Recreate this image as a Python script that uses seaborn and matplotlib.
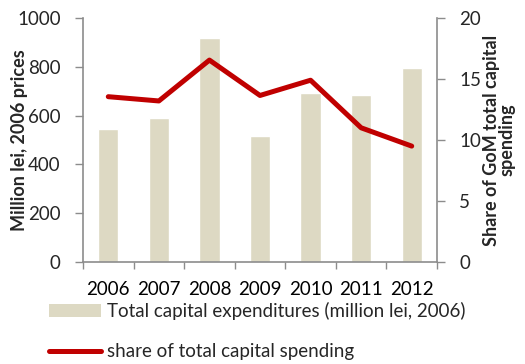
import matplotlib
matplotlib.use("Agg")
import matplotlib.pyplot as plt
from matplotlib.patches import Patch
from matplotlib.lines import Line2D
from matplotlib.ticker import FixedLocator, MultipleLocator
import seaborn as sns
import pandas as pd

years = ["2006", "2007", "2008", "2009", "2010", "2011", "2012"]
capex = [545, 590, 918, 516, 694, 686, 794]
share = [13.55, 13.2, 16.55, 13.65, 14.9, 11.0, 9.5]

bar_label = "Total capital expenditures (million lei, 2006)"
line_label = "share of total capital spending"

sns.set_theme(style="white")
plt.rcParams["font.family"] = ["Lato", "DejaVu Sans"]

bar_color = "#DDD9C3"
line_color = "#C00000"
spine_color = "#8C8C8C"
fs = 13.5

df = pd.DataFrame({"year": years, "capex": capex, "share": share})
df["pos"] = range(len(years))

fig = plt.figure(figsize=(5.25, 3.64), dpi=100)
ax = fig.add_axes([83 / 525, 1 - 262 / 364, (437 - 83) / 525, (262 - 18) / 364])

sns.barplot(data=df, x="year", y="capex", color=bar_color, width=0.4,
            saturation=1, ax=ax)
ax.set_ylim(0, 1000)
ax.set_xlim(-0.5, len(years) - 0.5)
ax.yaxis.set_major_locator(MultipleLocator(200))
ax.set_xlabel("")
ax.set_ylabel("Million lei, 2006 prices", fontsize=13, fontweight="bold")
ax.yaxis.set_label_coords(-0.156, 0.5)

ax2 = ax.twinx()
sns.lineplot(data=df, x="pos", y="share", color=line_color, linewidth=3.6,
             ax=ax2, legend=False)
ax2.set_ylim(0, 20)
ax2.yaxis.set_major_locator(MultipleLocator(5))
ax2.set_xlim(-0.5, len(years) - 0.5)
ax2.set_xlabel("")
ax2.set_ylabel("Share of GoM total capital\nspending", fontsize=13,
               fontweight="bold", linespacing=0.92)
ax2.yaxis.set_label_coords(1.13, 0.5)

# x ticks: labels centred on categories, tick marks between categories
ax.xaxis.set_major_locator(FixedLocator(list(range(len(years)))))
ax.set_xticklabels(years)
ax.xaxis.set_minor_locator(FixedLocator([i - 0.5 for i in range(len(years) + 1)]))
ax.tick_params(axis="x", which="major", length=0, pad=14, labelsize=fs,
               colors="black")
ax.tick_params(axis="x", which="minor", length=5, width=1, color=spine_color,
               direction="out", bottom=True)
ax.tick_params(axis="y", length=6, width=1, color=spine_color,
               direction="out", labelsize=fs, left=True, pad=10)
ax2.tick_params(axis="y", length=6, width=1, color=spine_color,
                direction="out", labelsize=fs, right=True, pad=10)

for a in (ax, ax2):
    for s in a.spines.values():
        s.set_visible(False)
    a.grid(False)
ax.spines["left"].set_visible(True)
ax.spines["bottom"].set_visible(True)
ax2.spines["right"].set_visible(True)
for s in (ax.spines["left"], ax.spines["bottom"], ax2.spines["right"]):
    s.set_color(spine_color)
    s.set_linewidth(1.2)

handles = [Patch(facecolor=bar_color, edgecolor="none"),
           Line2D([0], [0], color=line_color, linewidth=3.6)]
fig.legend(handles, [bar_label, line_label], loc="upper left",
           bbox_to_anchor=(40 / 525, 1 - 293 / 364), frameon=False,
           fontsize=fs, handlelength=2.77, handleheight=0.7,
           handletextpad=0.32, labelspacing=1.21, borderpad=0)

fig.savefig("out.png", dpi=100)
